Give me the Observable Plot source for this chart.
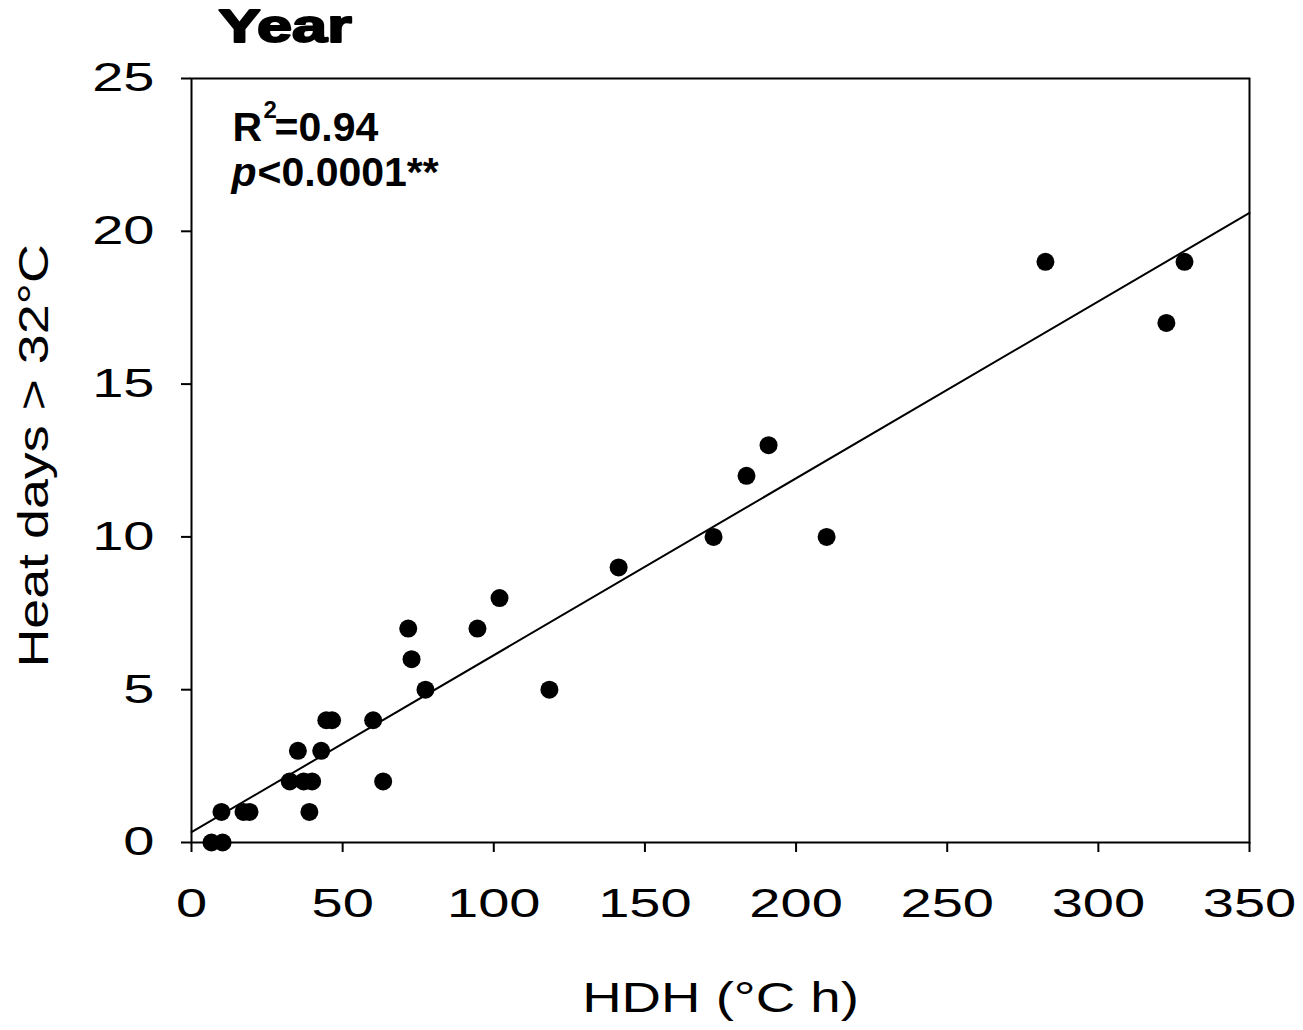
<!DOCTYPE html>
<html><head><meta charset="utf-8">
<script src="https://cdn.jsdelivr.net/npm/d3@7"></script>
<script src="https://cdn.jsdelivr.net/npm/@observablehq/plot@0.6"></script>
<style>body{margin:0;background:#fff}</style>
</head><body><div id="chart"></div>
<script>
// Data
const hdh      = [6.6, 10.3, 9.9, 17.2, 19.2, 32.5, 37.1, 39.9, 39.0, 35.2, 42.9, 44.6, 46.5, 60.1, 63.4, 71.7, 72.8, 77.4, 94.6, 101.9, 118.4, 141.3, 172.7, 183.6, 190.9, 210.1, 282.5, 322.5, 328.5];
const heatDays = [0,   0,    1,   1,    1,    2,    2,    2,    1,    3,    3,    4,    4,    4,    2,    7,    6,    5,    7,    8,     5,     9,     10,    12,    13,    10,    19,    17,    19];
const xTicks = [0, 50, 100, 150, 200, 250, 300, 350];
const yTicks = [0, 5, 10, 15, 20, 25];
const fitX = [0, 350];
const fitY = [0.34, 20.6];
const titleText = "Year";
const xLabel = "HDH (°C h)";
const yLabel = "Heat days > 32°C";

const points = hdh.map((x, i) => ({x, y: heatDays[i]}));
const fit = fitX.map((x, i) => ({x, y: fitY[i]}));

const chart = Plot.plot({
  width: 1303, height: 1030,
  marginLeft: 191, marginRight: 54, marginTop: 78, marginBottom: 188,
  style: {fontFamily: "'Liberation Sans', Arial, sans-serif", background: "white", color: "black"},
  x: {domain: [0, 350]},
  y: {domain: [0, 25]},
  marks: [
    Plot.frame({stroke: "black", strokeWidth: 2}),
    Plot.axisX({ticks: xTicks, tickSize: 10, tickPadding: 36, fontSize: 40, strokeWidth: 2, label: null, tickFormat: d => String(d)}),
    Plot.axisY({ticks: yTicks, tickSize: 10, tickPadding: 27, fontSize: 40, strokeWidth: 2, label: null, tickFormat: d => String(d)}),
    Plot.line(fit, {x: "x", y: "y", stroke: "black", strokeWidth: 2}),
    Plot.dot(points, {x: "x", y: "y", r: 9, fill: "black"}),
    Plot.text([xLabel], {frameAnchor: "bottom", dy: 156, lineAnchor: "middle", fontSize: 42, fill: "black"}),
    Plot.text([yLabel], {frameAnchor: "bottom-left", dx: -157, dy: -175, rotate: -90, textAnchor: "start", lineAnchor: "middle", fontSize: 42, fill: "black"}),
    Plot.text([titleText], {frameAnchor: "top-left", dx: 27, dy: -51, textAnchor: "start", lineAnchor: "middle", fontSize: 46, fontWeight: "bold", fill: "black", stroke: "black", strokeWidth: 2}),
    Plot.text(["R"], {frameAnchor: "top-left", dx: 41, dy: 49, textAnchor: "start", lineAnchor: "middle", fontSize: 41, fontWeight: "bold", fill: "black"}),
    Plot.text(["2"], {frameAnchor: "top-left", dx: 72, dy: 32, textAnchor: "start", lineAnchor: "middle", fontSize: 24, fontWeight: "bold", fill: "black"}),
    Plot.text(["=0.94"], {frameAnchor: "top-left", dx: 83, dy: 49, textAnchor: "start", lineAnchor: "middle", fontSize: 41, fontWeight: "bold", fill: "black"}),
    Plot.text(["p"], {frameAnchor: "top-left", dx: 40, dy: 94, textAnchor: "start", lineAnchor: "middle", fontSize: 41, fontWeight: "bold", fontStyle: "italic", fill: "black"}),
    Plot.text(["<0.0001**"], {frameAnchor: "top-left", dx: 66, dy: 94, textAnchor: "start", lineAnchor: "middle", fontSize: 41, fontWeight: "bold", fill: "black"})
  ]
});
document.getElementById("chart").append(chart);

// widen the axis texts to the reference's proportions
const keep = new Set(["R", "2", "=0.94", "p", "<0.0001**"]);
chart.querySelectorAll("text").forEach(t => {
  const s = t.textContent;
  if (keep.has(s)) return;
  let k = 1.4;
  if (s === xLabel) k = 1.3;
  else if (s === yLabel) k = 1.28;
  else if (s === titleText) k = 1.37;
  const len = t.getComputedTextLength();
  t.setAttribute("textLength", len * k);
  t.setAttribute("lengthAdjust", "spacingAndGlyphs");
});
</script>
</body></html>
